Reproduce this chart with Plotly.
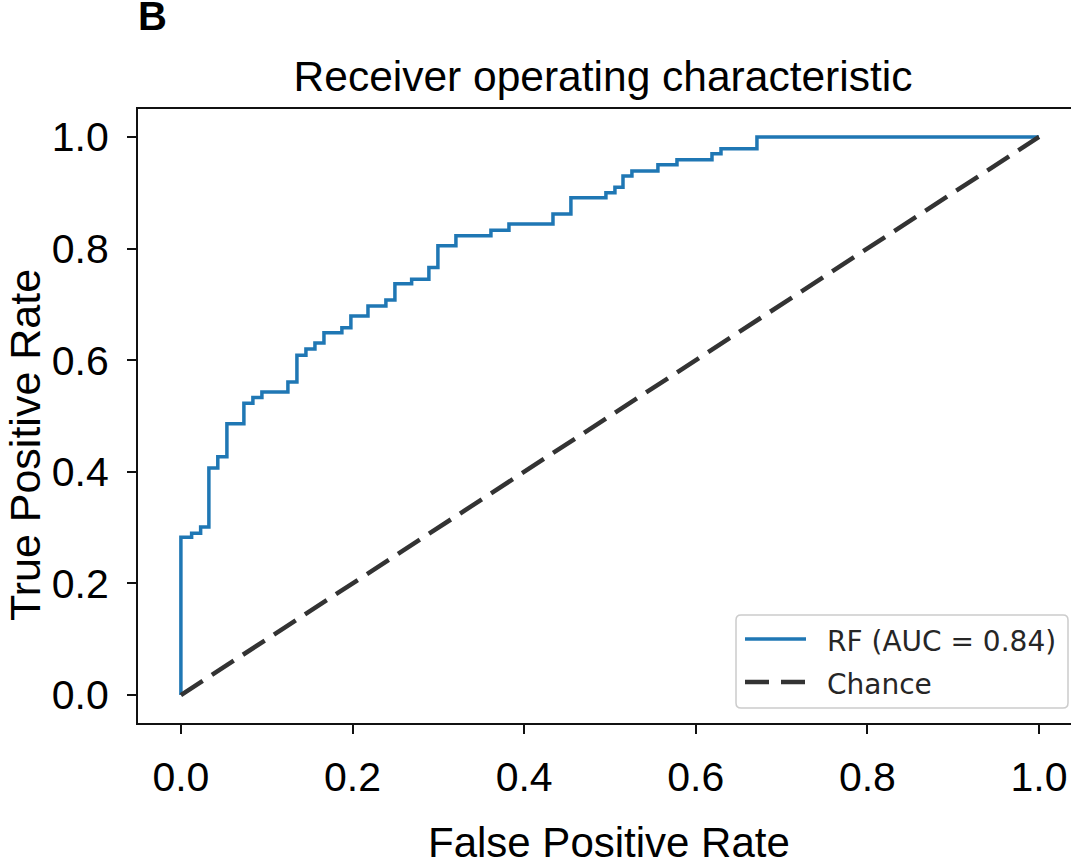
import plotly.graph_objects as go

# ROC curve corner points
fpr = [0.0, 0.0, 0.0125, 0.023, 0.0326, 0.043, 0.0536, 0.0734, 0.0839, 0.0944,
       0.1247, 0.1352, 0.1457, 0.1562, 0.1667, 0.1876, 0.1981, 0.218, 0.2389,
       0.2494, 0.2689, 0.289, 0.2995, 0.3205, 0.3613, 0.3823, 0.4336, 0.4545,
       0.4953, 0.5058, 0.5152, 0.5256, 0.5559, 0.5781, 0.6189, 0.6294, 0.6713, 1.0]
tpr = [0.0, 0.283, 0.290, 0.301, 0.407, 0.427, 0.486, 0.523, 0.533, 0.543,
       0.561, 0.609, 0.620, 0.631, 0.649, 0.658, 0.679, 0.697, 0.708,
       0.737, 0.745, 0.766, 0.805, 0.823, 0.833, 0.844, 0.862, 0.891,
       0.900, 0.910, 0.930, 0.939, 0.950, 0.959, 0.970, 0.979, 1.0, 1.0]
chance_x = [0.0, 1.0]
chance_y = [0.0, 1.0]
ticks = [0.0, 0.2, 0.4, 0.6, 0.8, 1.0]
legend_labels = ["RF (AUC = 0.84)", "Chance"]

W, H = 1071, 862
ML, MR, MT, MB = 138, 0, 109, 139
PW, PH = W - ML - MR, H - MT - MB
FONT = "Liberation Sans, Arial, sans-serif"
BLUE = "#1f77b4"
DARK = "#333333"


def px(x):
    return (x - ML) / PW


def py(y):
    return (H - MB - y) / PH


fig = go.Figure()
fig.add_trace(go.Scatter(x=fpr, y=tpr, mode="lines", line_shape="hv",
                         line=dict(color=BLUE, width=3.5),
                         name=legend_labels[0], showlegend=False))
fig.add_trace(go.Scatter(x=chance_x, y=chance_y, mode="lines",
                         line=dict(color=DARK, width=4.5, dash="26px,11px"),
                         name=legend_labels[1], showlegend=False))

axis_common = dict(
    showgrid=False, zeroline=False, showline=True, linecolor="#111111", linewidth=2,
    ticks="outside", ticklen=9, tickwidth=2, tickcolor="#111111",
    tickvals=ticks, tickformat=".1f",
    tickfont=dict(family=FONT, size=41, color="#000000"),
    automargin=False,
)
fig.update_xaxes(range=[-0.05, 1.0373], mirror=True, ticklabelstandoff=8, **axis_common)
fig.update_yaxes(range=[-0.05, 1.05], mirror=False, ticklabelstandoff=10, **axis_common)

# manual legend box (rounded rectangle) in paper coordinates
x0, x1, y0, y1, r = 736, 1068, 615, 708, 5
X0, X1, Y0, Y1 = px(x0), px(x1), py(y0), py(y1)
rx, ry = r / PW, r / PH
box_path = (f"M{X0 + rx},{Y0} L{X1 - rx},{Y0} Q{X1},{Y0} {X1},{Y0 - ry} "
            f"L{X1},{Y1 + ry} Q{X1},{Y1} {X1 - rx},{Y1} L{X0 + rx},{Y1} "
            f"Q{X0},{Y1} {X0},{Y1 + ry} L{X0},{Y0 - ry} Q{X0},{Y0} {X0 + rx},{Y0} Z")
shapes = [
    dict(type="path", xref="paper", yref="paper", path=box_path,
         line=dict(color="#cccccc", width=1.5), fillcolor="rgba(255,255,255,0.8)"),
    dict(type="line", xref="paper", yref="paper", x0=px(745), x1=px(806),
         y0=py(639), y1=py(639), line=dict(color=BLUE, width=3.5)),
    dict(type="line", xref="paper", yref="paper", x0=px(745), x1=px(806),
         y0=py(682), y1=py(682), line=dict(color=DARK, width=4.5, dash="24px,12px")),
]

annotations = [
    dict(text=legend_labels[0], xref="paper", yref="paper", x=px(825), y=py(641),
         xanchor="left", yanchor="middle", showarrow=False,
         font=dict(family="DejaVu Sans", size=28, color="#262626")),
    dict(text=legend_labels[1], xref="paper", yref="paper", x=px(825), y=py(684),
         xanchor="left", yanchor="middle", showarrow=False,
         font=dict(family="DejaVu Sans", size=28, color="#262626")),
    dict(text="False Positive Rate", xref="paper", yref="paper",
         x=px(609), y=py(842), xanchor="center", yanchor="middle", showarrow=False,
         font=dict(family=FONT, size=42, color="#000000")),
    dict(text="True Positive Rate", xref="paper", yref="paper", textangle=-90,
         x=px(25), y=py(445), xanchor="center", yanchor="middle", showarrow=False,
         font=dict(family=FONT, size=43, color="#000000")),
    dict(text="<b>B</b>", xref="paper", yref="paper",
         x=px(136), y=py(16), xanchor="left", yanchor="middle", showarrow=False,
         font=dict(family=FONT, size=40, color="#000000")),
]

fig.update_layout(
    width=W, height=H,
    margin=dict(l=ML, r=MR, t=MT, b=MB, pad=0),
    paper_bgcolor="white", plot_bgcolor="white",
    title=dict(text="Receiver operating characteristic", x=px(603),
               xref="paper", xanchor="center", y=1 - 76 / H, yanchor="middle",
               font=dict(family=FONT, size=42.5, color="#000000")),
    showlegend=False,
    shapes=shapes,
    annotations=annotations,
)

fig.write_html("out.html")
